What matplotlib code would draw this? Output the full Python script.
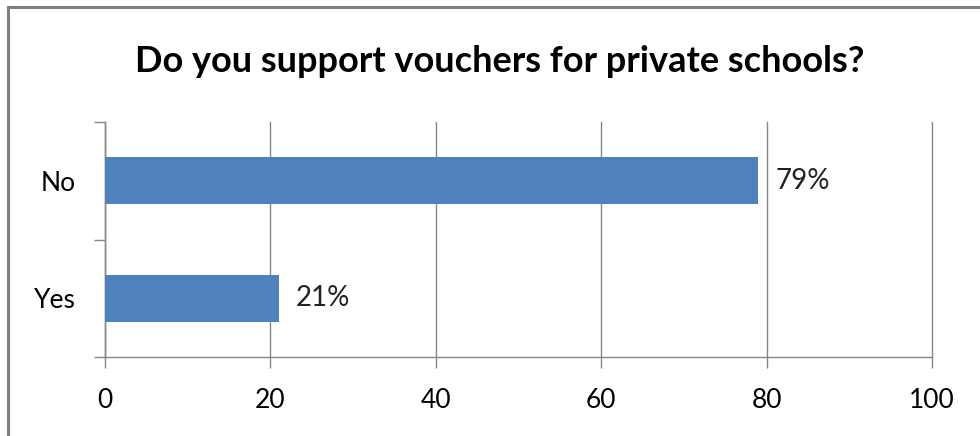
import matplotlib.pyplot as plt
from matplotlib.lines import Line2D

categories = ["Yes", "No"]
values = [21, 79]
value_labels = ["21%", "79%"]
x_ticks = [0, 20, 40, 60, 80, 100]
title = "Do you support vouchers for private schools?"

plt.rcParams["font.family"] = ["Lato", "DejaVu Sans"]

fig = plt.figure(figsize=(9.8, 4.36), dpi=100)
ax = fig.add_axes([105 / 980, 1 - 357 / 436, (932 - 105) / 980, (357 - 122) / 436])

pos = list(range(len(categories)))
ax.barh(pos, values, height=0.4, color="#4F81BD", zorder=3)
for p, v, lab in zip(pos, values, value_labels):
    ax.text(v + 2.1, p, lab, va="center", ha="left", fontsize=20, color="#222222")

ax.set_xlim(0, 100)
ax.set_ylim(-0.5, len(categories) - 0.5)
ax.set_xticks(x_ticks)
ax.set_xticklabels([str(t) for t in x_ticks], fontsize=19)
ax.set_yticks([-0.5, 0.5, 1.5])
ax.set_yticklabels([])
ax.set_yticks(pos, minor=True)
ax.set_yticklabels(categories, minor=True, fontsize=19)
ax.tick_params(axis="y", which="minor", length=0, pad=21)
ax.tick_params(axis="y", which="major", length=8, color="#868686", width=1)
ax.tick_params(axis="x", length=8, color="#868686", width=1, pad=14)

ax.grid(axis="x", color="#868686", linewidth=1, zorder=0)
for gl in ax.get_xgridlines():
    gl.set_clip_on(False)
for s in ["top", "right"]:
    ax.spines[s].set_visible(False)
for s in ["left", "bottom"]:
    ax.spines[s].set_color("#868686")
    ax.spines[s].set_linewidth(1)

fig.text(500 / 980, 1 - 61 / 436, title, ha="center", va="center",
         fontsize=26, fontweight="bold", color="black")

# chart frame (only top and left edges visible)
fig.add_artist(Line2D([8 / 980, 8 / 980], [0, 1 - 7.5 / 436], transform=fig.transFigure,
                      color="#7f7f7f", linewidth=2.2))
fig.add_artist(Line2D([8 / 980, 1], [1 - 7.5 / 436, 1 - 7.5 / 436], transform=fig.transFigure,
                      color="#7f7f7f", linewidth=2.2))

fig.savefig("out.png", dpi=100)
